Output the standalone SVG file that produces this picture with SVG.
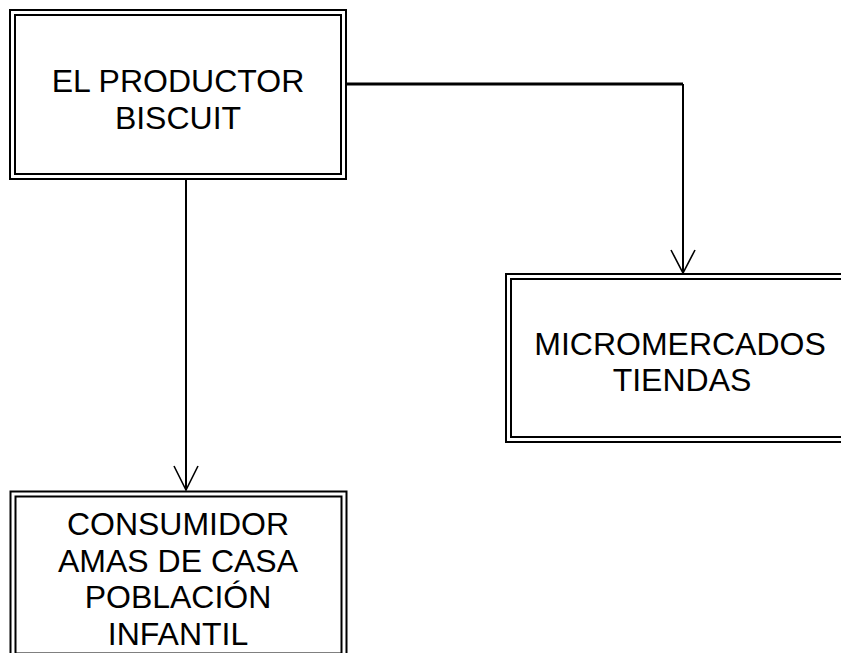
<svg xmlns="http://www.w3.org/2000/svg" width="841" height="653" viewBox="0 0 841 653">
<style>
.box{fill:none;stroke:#000;stroke-width:2}
.lbl{font-family:"Liberation Sans",Arial,sans-serif;font-size:32px;fill:#000;text-anchor:middle}
.con{fill:none;stroke:#000;stroke-width:2}
.head{fill:none;stroke:#000;stroke-width:1.6}
</style>
<rect width="841" height="653" fill="#fff"/>
<g id="connectors">
<line class="con" x1="346" y1="84" x2="683" y2="84" style="stroke-width:3"/>
<line class="con" x1="683" y1="84" x2="683" y2="273"/>
<polyline class="head" points="671,250 683,273 695,250"/>
<line class="con" x1="186" y1="179" x2="186" y2="490"/>
<polyline class="head" points="174,466 186,490 198,466"/>
</g>
<g id="productor">
<rect class="box" x="10" y="10" width="336" height="169"/>
<rect class="box" x="15" y="15" width="326" height="159"/>
<text class="lbl" x="178" y="92">EL PRODUCTOR</text>
<text class="lbl" x="178" y="129">BISCUIT</text>
</g>
<g id="micromercados">
<rect class="box" x="506" y="274" width="360" height="168"/>
<rect class="box" x="511" y="279" width="350" height="158"/>
<text class="lbl" x="680" y="355">MICROMERCADOS</text>
<text class="lbl" x="682" y="391">TIENDAS</text>
</g>
<g id="consumidor">
<rect class="box" x="10.5" y="491.5" width="336" height="175"/>
<rect class="box" x="15.5" y="496.5" width="326" height="157"/>
<text class="lbl" x="178" y="535">CONSUMIDOR</text>
<text class="lbl" x="178" y="572">AMAS DE CASA</text>
<text class="lbl" x="178" y="608">POBLACIÓN</text>
<text class="lbl" x="178" y="645">INFANTIL</text>
</g>
</svg>
